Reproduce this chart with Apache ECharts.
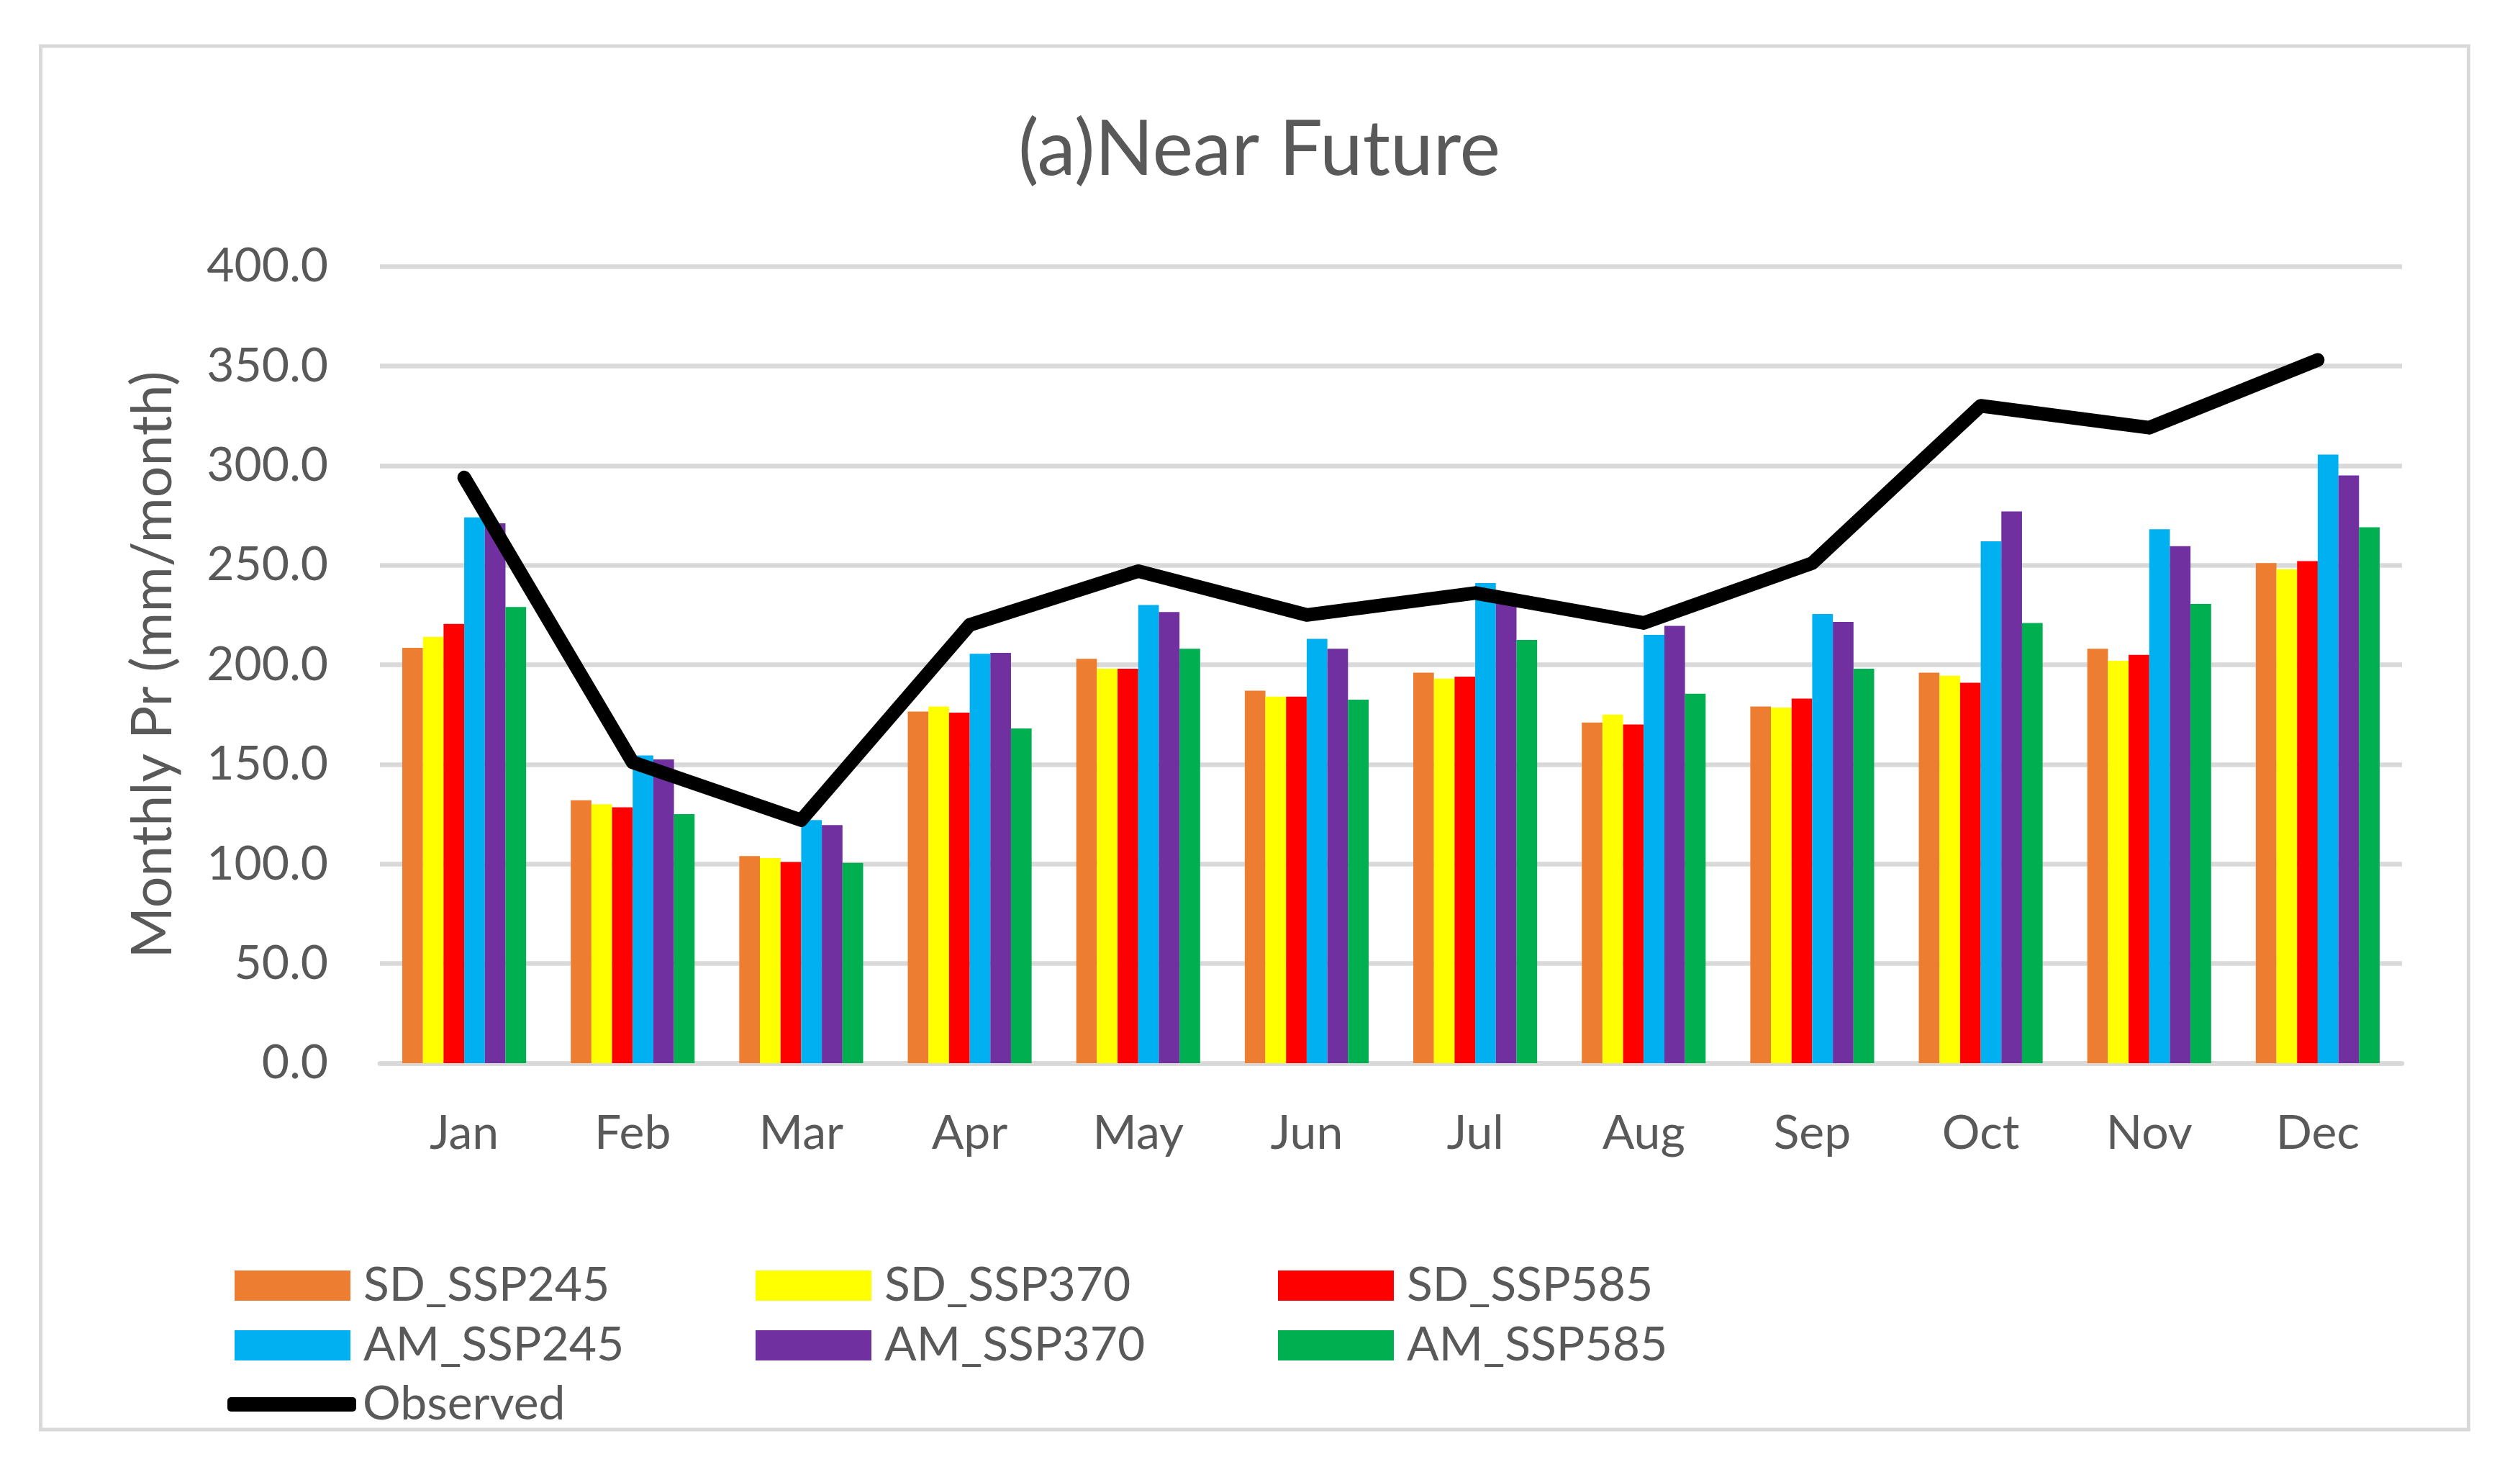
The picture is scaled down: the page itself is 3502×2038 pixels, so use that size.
<!DOCTYPE html>
<html><head><meta charset="utf-8">
<script src="https://cdn.jsdelivr.net/npm/echarts@6/dist/echarts.min.js"></script>
<style>html,body{margin:0;padding:0;background:#fff}#c{width:3502px;height:2038px}</style>
</head><body><div id="c"></div>
<script>
const categories = ['Jan','Feb','Mar','Apr','May','Jun','Jul','Aug','Sep','Oct','Nov','Dec'];
const SD_SSP245 = [208.5, 132, 104, 176.5, 203, 187, 196, 171, 179, 196, 208, 251];
const SD_SSP370 = [214, 130, 103, 179, 198, 184, 193, 175, 178.5, 194.5, 202, 248];
const SD_SSP585 = [220.5, 128.5, 101, 176, 198, 184, 194, 170, 183, 191, 205, 252];
const AM_SSP245 = [274, 154.5, 122, 205.5, 230, 213, 241, 215, 225.5, 262, 268, 305.5];
const AM_SSP370 = [271, 152.5, 119.5, 206, 226.5, 208, 235, 219.5, 221.5, 277, 259.5, 295];
const AM_SSP585 = [229, 125, 100.5, 168, 208, 182.5, 212.5, 185.5, 198, 221, 230.5, 269];
const Observed = [294, 151, 122, 220, 247, 225, 236, 221, 251, 330, 319, 353];
const yTicks = {min: 0, max: 400, interval: 50};

const FONT = 'Lato';
const GREY = '#595959';
const barSeries = [
  ['SD_SSP245', SD_SSP245, '#ED7D31'],
  ['SD_SSP370', SD_SSP370, '#FFFF00'],
  ['SD_SSP585', SD_SSP585, '#FF0000'],
  ['AM_SSP245', AM_SSP245, '#00B0F0'],
  ['AM_SSP370', AM_SSP370, '#7030A0'],
  ['AM_SSP585', AM_SSP585, '#00B050']
];
const legendPos = [[326,1753],[1050,1753],[1776,1753],[326,1836],[1050,1836],[1776,1836]];

const legends = barSeries.map((s, i) => ({
  data: [s[0]], left: legendPos[i][0], top: legendPos[i][1], padding: 0,
  itemWidth: 161, itemHeight: 42, icon: 'rect', selectedMode: false,
  textStyle: {fontFamily: FONT, fontSize: 66, color: GREY, lineHeight: 42, padding: [0,0,0,13]}
}));
legends.push({
  data: [{name: 'Observed', icon: 'roundRect', itemStyle: {color: '#000'}}],
  left: 316, top: 1918, padding: 0, itemWidth: 179, itemHeight: 20, selectedMode: false,
  textStyle: {fontFamily: FONT, fontSize: 66, color: GREY, lineHeight: 42, padding: [0,0,0,4]}
});

const series = barSeries.map(s => ({
  name: s[0], type: 'bar', data: s[1], itemStyle: {color: s[2]},
  barGap: '0%', barCategoryGap: '26.5%'
}));
series.push({
  name: 'Observed', type: 'line', data: Observed, symbol: 'none', z: 10,
  lineStyle: {color: '#000', width: 19, cap: 'round', join: 'round'},
  itemStyle: {color: '#000'}
});

const chart = echarts.init(document.getElementById('c'), null, {renderer: 'canvas'});
chart.setOption({
  animation: false,
  backgroundColor: '#fff',
  title: {
    text: '(a)Near Future', left: 1745, top: 150, textAlign: 'center',
    textStyle: {fontFamily: FONT, fontSize: 107, fontWeight: 'normal', color: GREY}
  },
  graphic: [{
    type: 'rect', shape: {x: 56.5, y: 64, width: 3374, height: 1922},
    style: {fill: 'none', stroke: '#D9D9D9', lineWidth: 5}, silent: true, z: -1
  }],
  legend: legends,
  grid: {left: 528, right: 164, top: 370, bottom: 561, containLabel: false},
  xAxis: {
    type: 'category', data: categories,
    axisLine: {show: true, lineStyle: {color: '#D9D9D9', width: 6.5}},
    axisTick: {show: false},
    axisLabel: {fontFamily: FONT, fontSize: 66, color: GREY, margin: 65}
  },
  yAxis: {
    type: 'value', min: yTicks.min, max: yTicks.max, interval: yTicks.interval,
    name: 'Monthly Pr (mm/month)', nameLocation: 'middle', nameGap: 276, nameRotate: 90,
    nameTextStyle: {fontFamily: FONT, fontSize: 77, color: GREY},
    axisLine: {show: false}, axisTick: {show: false},
    splitLine: {lineStyle: {color: '#D9D9D9', width: 6.5}},
    axisLabel: {fontFamily: FONT, fontSize: 66, color: GREY, margin: 72,
      formatter: v => v.toFixed(1)}
  },
  series: series
});
</script></body></html>
